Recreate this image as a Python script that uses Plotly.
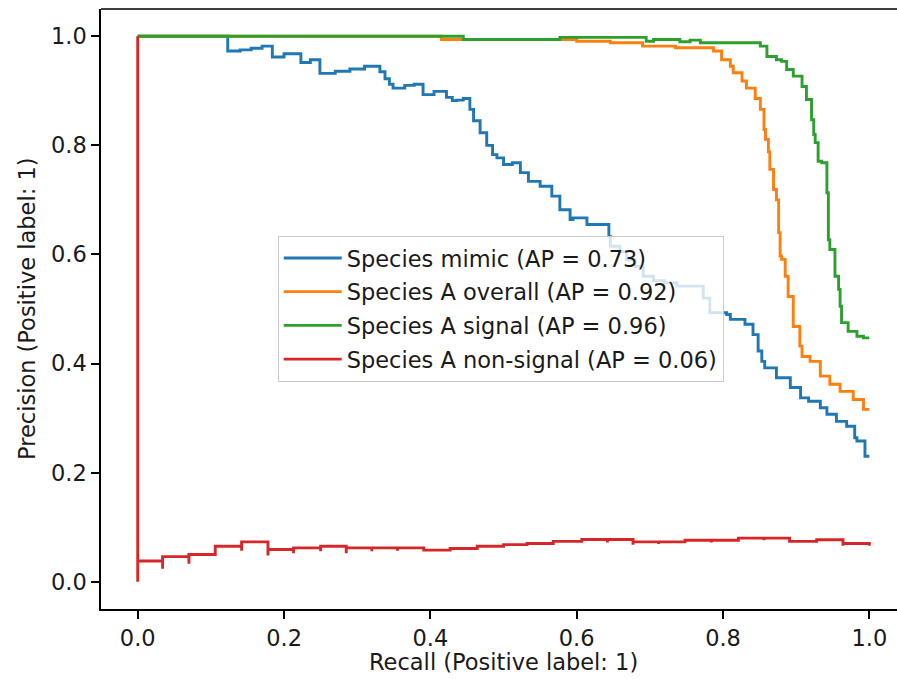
import plotly.graph_objects as go

# ---- data ----
mimic_recall = [0, 0.123, 0.14, 0.155, 0.17, 0.184, 0.20, 0.223, 0.236, 0.249, 0.27, 0.29, 0.31, 0.331,
                0.338, 0.344, 0.349, 0.365, 0.378, 0.390, 0.405, 0.422, 0.430, 0.436, 0.445, 0.454,
                0.459, 0.468, 0.477, 0.485, 0.491, 0.500, 0.512, 0.523, 0.534, 0.550, 0.566, 0.577,
                0.591, 0.595, 0.614, 0.628, 0.644, 0.646, 0.659, 0.668, 0.680, 0.691, 0.705, 0.720,
                0.737, 0.773, 0.782, 0.805,
                0.810, 0.830, 0.841, 0.848, 0.853, 0.857, 0.873, 0.892, 0.906, 0.917, 0.933, 0.942,
                0.955, 0.969, 0.980, 0.983, 0.994, 1.0]
mimic_precision = [1.0, 1.0, 0.973, 0.975, 0.978, 0.982, 0.962, 0.968, 0.952, 0.957, 0.932, 0.936, 0.940, 0.945,
                   0.935, 0.922, 0.912, 0.905, 0.910, 0.912, 0.893, 0.899, 0.888, 0.882, 0.883, 0.886,
                   0.866, 0.845, 0.823, 0.800, 0.783, 0.777, 0.765, 0.768, 0.750, 0.734, 0.725, 0.707,
                   0.682, 0.664, 0.667, 0.655, 0.655, 0.633, 0.615, 0.605, 0.590, 0.578, 0.560, 0.552,
                   0.548, 0.542, 0.520, 0.493,
                   0.490, 0.481, 0.472, 0.453, 0.423, 0.404, 0.392, 0.374, 0.356, 0.337, 0.331, 0.319,
                   0.307, 0.294, 0.285, 0.264, 0.258, 0.230]

overall_recall = [0, 0.415, 0.60, 0.646, 0.690, 0.735, 0.787, 0.798, 0.810, 0.814, 0.826, 0.832, 0.844,
                  0.851, 0.856, 0.858, 0.862, 0.864, 0.869, 0.873, 0.876, 0.878, 0.880, 0.885, 0.889,
                  0.896, 0.905, 0.908, 0.919, 0.933, 0.946, 0.960, 0.978, 0.992, 1.0]
overall_precision = [1.0, 1.0, 0.994, 0.991, 0.988, 0.982, 0.979, 0.973, 0.957, 0.945, 0.933, 0.918, 0.905,
                     0.886, 0.866, 0.829, 0.811, 0.788, 0.756, 0.719, 0.700, 0.640, 0.597, 0.591, 0.560,
                     0.523, 0.468, 0.432, 0.413, 0.404, 0.377, 0.362, 0.349, 0.334, 0.316]

signal_recall = [0, 0.445, 0.577, 0.695, 0.705, 0.741, 0.755, 0.769, 0.851, 0.860, 0.873, 0.880, 0.887,
                 0.896, 0.908, 0.914, 0.921, 0.924, 0.926, 0.930, 0.935, 0.942, 0.944, 0.946, 0.953,
                 0.958, 0.960, 0.962, 0.971, 0.983, 0.992, 1.0]
signal_precision = [1.0, 1.0, 0.994, 0.998, 0.991, 0.994, 0.990, 0.993, 0.988, 0.982, 0.963, 0.957, 0.954,
                    0.939, 0.927, 0.908, 0.884, 0.847, 0.820, 0.805, 0.771, 0.768, 0.713, 0.627, 0.609,
                    0.560, 0.536, 0.505, 0.475, 0.459, 0.450, 0.447]

nonsignal_recall = [0, 0, 0.034, 0.034, 0.070, 0.070, 0.106, 0.142, 0.142, 0.178, 0.178, 0.213, 0.213,
                    0.25, 0.25, 0.285, 0.285, 0.32, 0.32, 0.355, 0.355, 0.391, 0.427, 0.464, 0.5, 0.532,
                    0.568, 0.607, 0.642, 0.642, 0.677, 0.677, 0.712, 0.712, 0.748, 0.784, 0.784, 0.821,
                    0.856, 0.856, 0.891, 0.928, 0.964, 0.964, 1.0, 1.0]
nonsignal_precision = [1.0, 0.0, 0.038, 0.024, 0.046, 0.033, 0.050, 0.065, 0.057, 0.073, 0.048, 0.059, 0.052,
                       0.062, 0.056, 0.065, 0.052, 0.062, 0.056, 0.062, 0.057, 0.062, 0.058, 0.061, 0.065, 0.068,
                       0.070, 0.074, 0.0775, 0.072, 0.0775, 0.068, 0.073, 0.069, 0.073, 0.076, 0.072, 0.076,
                       0.080, 0.076, 0.080, 0.074, 0.077, 0.066, 0.070, 0.066]

series_names = ["Species mimic (AP = 0.73)", "Species A overall (AP = 0.92)",
                "Species A signal (AP = 0.96)", "Species A non-signal (AP = 0.06)"]
series_colors = ["#1f77b4", "#ff7f0e", "#2ca02c", "#d62728"]
tick_vals = [0.0, 0.2, 0.4, 0.6, 0.8, 1.0]

FONT = "DejaVu Sans, Liberation Sans, sans-serif"
FS = 22.5
TXT = "#1a1a1a"

fig = go.Figure()
for i, (xs, ys, name, col) in enumerate(zip(
        [mimic_recall, overall_recall, signal_recall, nonsignal_recall],
        [mimic_precision, overall_precision, signal_precision, nonsignal_precision],
        series_names, series_colors)):
    fig.add_trace(go.Scatter(x=xs, y=ys, mode="lines", name=name, legendgroup=f"g{i}",
                             line=dict(color=col, width=2.9, shape="vh")))

axis_common = dict(showgrid=False, zeroline=False, showline=True, linecolor="black", linewidth=1.5,
                   ticks="outside", ticklen=8, tickwidth=1.5, tickcolor="black",
                   tickvals=tick_vals, tickformat=".1f",
                   tickfont=dict(family=FONT, size=FS, color=TXT))

fig.update_layout(
    width=897, height=679,
    margin=dict(l=101, r=0, t=9, b=70),
    paper_bgcolor="white", plot_bgcolor="white",
    font=dict(family=FONT, size=FS, color=TXT),
    showlegend=True,
    legend=dict(x=0.222, y=0.622, xanchor="left", yanchor="top",
                bgcolor="rgba(255,255,255,0.8)", bordercolor="#cccccc", borderwidth=1,
                font=dict(family=FONT, size=FS, color=TXT),
                tracegroupgap=1.5, itemwidth=58),
    xaxis=dict(range=[-0.0502, 1.0378], **axis_common),
    yaxis=dict(range=[-0.05, 1.05], **axis_common),
    shapes=[dict(type="line", xref="paper", yref="paper", x0=0, x1=1, y0=1, y1=1,
                 line=dict(color="black", width=1.5))],
    annotations=[
        dict(text="Recall (Positive label: 1)", xref="paper", yref="paper", x=0.5057, y=-0.088,
             xanchor="center", yanchor="middle", showarrow=False,
             font=dict(family=FONT, size=FS, color=TXT)),
        dict(text="Precision (Positive label: 1)", xref="paper", yref="paper", x=-0.093, y=0.5,
             xanchor="center", yanchor="middle", textangle=-90, showarrow=False,
             font=dict(family=FONT, size=FS, color=TXT)),
    ],
)

fig.write_html("out.html",
               config={"displayModeBar": False},
               post_script="document.body.style.margin='0';document.body.style.overflow='hidden';")
